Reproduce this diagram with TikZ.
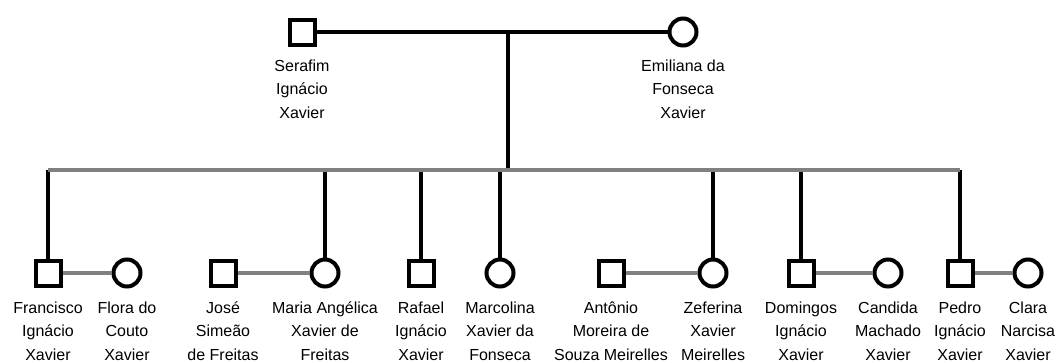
\documentclass[tikz,border=0pt]{standalone}
\usepackage{fontspec}
\setmainfont{Liberation Sans}
\begin{document}
\begin{tikzpicture}[x=1pt,y=-1pt]
\tikzset{
  male/.style={rectangle,draw=black,line width=4pt,minimum size=25pt,inner sep=0pt},
  female/.style={circle,draw=black,line width=4pt,minimum size=27pt,inner sep=0pt},
  who/.style={align=center,anchor=base,inner sep=0pt,font=\fontsize{16}{23.6}\selectfont},
  kin/.style={draw=black,line width=4pt},
  tie/.style={draw=black!50,line width=4pt}
}
\useasboundingbox (0,0) rectangle (1062,362);
% parents
\node[male] (serafim) at (302,32) {};
\node[female] (emiliana) at (683,32) {};
\node[who] (lserafim) at (302,118.5) {Serafim\\Ignácio\\Xavier};
\node[who] (lemiliana) at (683,118.5) {Emiliana da\\Fonseca\\Xavier};
% children and spouses
\node[male] (francisco) at (48,273) {};
\node[female] (flora) at (127,273) {};
\node[male] (jose) at (223,273) {};
\node[female] (maria) at (325,273) {};
\node[male] (rafael) at (421,273) {};
\node[female] (marcolina) at (500,273) {};
\node[male] (antonio) at (611,273) {};
\node[female] (zeferina) at (713,273) {};
\node[male] (domingos) at (801,273) {};
\node[female] (candida) at (888,273) {};
\node[male] (pedro) at (960,273) {};
\node[female] (clara) at (1028,273) {};
\node[who] (lfrancisco) at (48,360.5) {Francisco\\Ignácio\\Xavier};
\node[who] (lflora) at (127,360.5) {Flora do\\Couto\\Xavier};
\node[who] (ljose) at (223,360.5) {José\\Simeão\\de Freitas};
\node[who] (lmaria) at (325,360.5) {Maria Angélica\\Xavier de\\Freitas};
\node[who] (lrafael) at (421,360.5) {Rafael\\Ignácio\\Xavier};
\node[who] (lmarcolina) at (500,360.5) {Marcolina\\Xavier da\\Fonseca};
\node[who] (lantonio) at (611,360.5) {Antônio\\Moreira de\\Souza Meirelles};
\node[who] (lzeferina) at (713,360.5) {Zeferina\\Xavier\\Meirelles};
\node[who] (ldomingos) at (801,360.5) {Domingos\\Ignácio\\Xavier};
\node[who] (lcandida) at (888,360.5) {Candida\\Machado\\Xavier};
\node[who] (lpedro) at (960,360.5) {Pedro\\Ignácio\\Xavier};
\node[who] (lclara) at (1028,360.5) {Clara\\Narcisa\\Xavier};
% lines
\coordinate (couple) at (508,32);
\coordinate (sibs) at (508,170);
\draw[kin] (serafim) -- (emiliana);
\draw[kin] (couple) -- (sibs);
\foreach \c in {francisco,maria,rafael,marcolina,zeferina,domingos,pedro}
  \draw[kin] (\c) -- (\c |- sibs);
\draw[tie] (francisco |- sibs) -- (pedro |- sibs);
\draw[tie] (francisco) -- (flora);
\draw[tie] (jose) -- (maria);
\draw[tie] (antonio) -- (zeferina);
\draw[tie] (domingos) -- (candida);
\draw[tie] (pedro) -- (clara);
\end{tikzpicture}
\end{document}
